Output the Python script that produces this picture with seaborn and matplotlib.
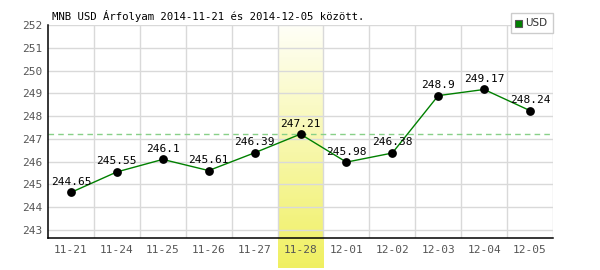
import numpy as np
import pandas as pd
import matplotlib
matplotlib.use("Agg")
import matplotlib.pyplot as plt
import seaborn as sns

dates = ["11-21", "11-24", "11-25", "11-26", "11-27", "11-28",
         "12-01", "12-02", "12-03", "12-04", "12-05"]
rates = [244.65, 245.55, 246.1, 245.61, 246.39, 247.21,
         245.98, 246.38, 248.9, 249.17, 248.24]
labels = ["244.65", "245.55", "246.1", "245.61", "246.39", "247.21",
          "245.98", "246.38", "248.9", "249.17", "248.24"]
highlight = "11-28"
ref_value = 247.21
yticks = [243, 244, 245, 246, 247, 248, 249, 250, 251, 252]
title = "MNB USD Árfolyam 2014-11-21 és 2014-12-05 között."
series = "USD"

sns.set_style("white")
plt.rcParams['font.family'] = ['DejaVu Sans Mono', 'DejaVu Sans']

df = pd.DataFrame({"date": dates, "rate": rates})
x = np.arange(len(dates))
df["x"] = x

fig = plt.figure(figsize=(6, 2.7), dpi=100)
ax = fig.add_axes([48/600, 1 - 238/270, (553-48)/600, (238-25)/270])

ymin, ymax = 242.65, 252

# gradient highlight band
hi = dates.index(highlight)
grad = np.linspace(0, 1, 256).reshape(-1, 1)
top = np.array([1.0, 1.0, 0.97])
bot = np.array([0.94, 0.94, 0.38])
img = top + (bot - top) * grad[..., None]
img = img.reshape(256, 1, 3)
band_bottom = 243 - (268 - 230) / 22.8
ax.imshow(img, extent=(hi - 0.5, hi + 0.5, band_bottom, ymax), aspect='auto',
          origin='upper', clip_on=False, zorder=0, interpolation='bilinear')

# grid
for b in np.arange(0.5, len(dates), 1.0):
    ax.axvline(b, color="#d9d9d9", lw=1, zorder=0.5)
for yv in yticks:
    ax.axhline(yv, color="#d9d9d9", lw=1, zorder=0.5)

ax.axhline(ref_value, color="#88d088", lw=1, ls=(0, (4, 3)), zorder=1)

sns.lineplot(data=df, x="x", y="rate", color="#008000", lw=1, ax=ax, zorder=2)
sns.scatterplot(data=df, x="x", y="rate", color="black", s=40, ax=ax,
                zorder=3, edgecolor="black", linewidth=0)

for xi, v, lab in zip(x, rates, labels):
    ax.annotate(lab, (xi, v), xytext=(0, 4), textcoords="offset points",
                ha="center", va="bottom", fontsize=8, color="black", zorder=4)

ax.set_xlim(-0.5, len(dates) - 0.5)
ax.set_ylim(ymin, ymax)
ax.set_xticks(x)
ax.set_xticklabels(dates)
ax.set_yticks(yticks)
ax.set_yticklabels([str(v) for v in yticks])
ax.tick_params(axis='both', length=0, labelsize=8, labelcolor="#555555")
ax.tick_params(axis='x', pad=5)
ax.tick_params(axis='y', pad=4)
ax.set_xlabel("")
ax.set_ylabel("")
for s in ["top", "right"]:
    ax.spines[s].set_visible(False)
for s in ["left", "bottom"]:
    ax.spines[s].set_color("black")
    ax.spines[s].set_linewidth(1.1)

fig.text(52/600, 1 - 16/270, title, fontsize=7.7, color="black",
         ha="left", va="center")

# legend box
from matplotlib.patches import Rectangle
fig.patches.append(Rectangle((511/600, 1 - 33/270), 42/600, 20/270,
                             transform=fig.transFigure, facecolor="white",
                             edgecolor="#cccccc", lw=1, zorder=5))
fig.patches.append(Rectangle((515/600, 1 - 27/270), 7/600, 7/270,
                             transform=fig.transFigure, facecolor="#008000",
                             edgecolor="#555555", lw=0.8, zorder=6))
fig.text(525/600, 1 - 23.5/270, series, fontsize=7.5, color="#333333",
         ha="left", va="center", family=["DejaVu Sans"], zorder=7)

fig.savefig("out.png", dpi=100)
